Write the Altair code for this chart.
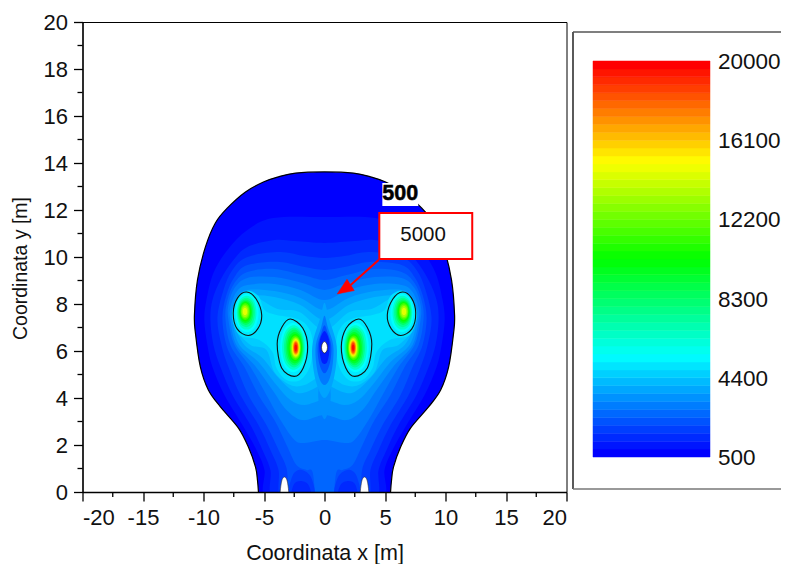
import altair as alt
import pandas as pd

FONT = "Liberation Sans"
X_MAJOR = [-20, -15, -10, -5, 0, 5, 10, 15, 20]
X_MINOR = [-17.5, -12.5, -7.5, -2.5, 2.5, 7.5, 12.5, 17.5]
Y_MAJOR = [0, 2, 4, 6, 8, 10, 12, 14, 16, 18, 20]
Y_MINOR = [1, 3, 5, 7, 9, 11, 13, 15, 17, 19]
BAR_LABELS = [500, 4400, 8300, 12200, 16100, 20000]

# half outlines of the nested contours (x >= 0)
OUTER_X = [0, 2.40, 3.89, 5.05, 6.53, 8.02, 9.02, 9.84, 10.50, 10.75, 10.67, 10.26, 9.60, 8.60, 7.11, 6.29, 5.70, 5.54, 5.46, 5.44, 0]
OUTER_Y = [13.62, 13.57, 13.40, 13.19, 12.77, 12.09, 11.45, 10.43, 9.02, 7.53, 6.77, 5.32, 4.34, 3.62, 2.72, 1.91, 1.06, 0.5, 0, -0.3, -0.3]
C1_X = [0, 4.22, 6.37, 8.02, 9.18, 9.76, 9.93, 9.68, 9.26, 8.27, 6.78, 5.62, 4.96, 4.71, 0]
C1_Y = [11.70, 11.66, 11.15, 10.30, 9.32, 8.17, 7.32, 6.26, 5.32, 4.13, 2.85, 1.79, .94, -.3, -.3]
C2_X = [0, 2.48, 4.14, 6.37, 7.53, 8.60, 9.26, 9.43, 9.18, 8.60, 7.61, 6.12, 5.13, 4.47, 4.14, 0]
C2_Y = [10.60, 10.68, 10.72, 10.43, 9.87, 9.02, 8.17, 7.32, 6.26, 5.32, 4.13, 2.85, 1.79, .94, -.3, -.3]
C3_X = [0, 1.65, 3.72, 6.37, 7.61, 8.35, 8.85, 8.52, 7.94, 6.95, 5.46, 4.47, 3.80, 3.47, 0]
C3_Y = [9.96, 10.04, 10.21, 10.00, 9.45, 8.60, 7.40, 6.26, 5.32, 4.13, 2.85, 1.79, .94, -.3, -.3]
C4_X = [0, 1.65, 3.72, 6.37, 7.44, 8.11, 8.44, 8.11, 7.28, 6.29, 4.80, 3.80, 3.14, 2.65, 0]
C4_Y = [9.45, 9.57, 9.79, 9.66, 9.15, 8.38, 7.40, 6.26, 5.32, 4.13, 2.85, 1.79, 1.02, -.3, -.3]
C5_X = [0, 1.82, 4.14, 6.37, 7.44, 8.02, 8.19, 7.78, 6.62, 5.46, 4.14, 3.14, 2.32, 1.49, .99, .66, 0]
C5_Y = [9.02, 9.23, 9.49, 9.36, 8.89, 8.17, 7.40, 6.26, 5.32, 4.13, 3.06, 2.00, 1.15, .94, .85, -.3, -.3]
C6_X = [0, 1.82, 4.14, 6.37, 7.44, 7.94, 7.94, 7.44, 6.12, 4.80, 3.64, 2.48, 1.65, 0]
C6_Y = [8.60, 8.89, 9.15, 9.11, 8.68, 7.96, 7.32, 6.26, 5.32, 4.13, 3.06, 2.21, 2.09, 2.21]
C7_X = [0, 1.99, 4.14, 6.37, 7.28, 7.78, 7.78, 7.28, 5.79, 4.30, 3.14, 1.82, 0]
C7_Y = [8.17, 8.60, 8.85, 8.81, 8.51, 7.83, 7.32, 6.26, 5.40, 4.34, 3.49, 3.06, 3.28]
C8_X = [0, 1.99, 4.14, 6.37, 7.20, 7.61, 7.61, 7.03, 5.46, 3.97, 2.81, 1.65, 0]
C8_Y = [7.74, 8.26, 8.55, 8.60, 8.34, 7.74, 7.23, 6.26, 5.53, 4.55, 3.91, 3.70, 3.91]
C9_X = [0, 1.99, 4.14, 6.37, 7.03, 7.44, 7.44, 6.62, 5.13, 3.80, 2.48, 1.49, 0]
C9_Y = [7.32, 7.96, 8.30, 8.38, 8.17, 7.66, 7.11, 6.26, 5.70, 4.85, 4.26, 4.26, 4.55]
C10_X = [0, 2.07, 3.89, 5.21, 6.45, 7.11, 7.61, 7.28, 6.12, 4.80, 4.14, 2.81, 1.65, 0]
C10_Y = [6.89, 7.66, 7.79, 8.17, 8.47, 8.26, 7.62, 6.89, 6.26, 6.04, 5.11, 4.55, 4.55, 4.98]
BODY = [(OUTER_X, OUTER_Y, 500), (C1_X, C1_Y, 890), (C2_X, C2_Y, 1280), (C3_X, C3_Y, 1670),
        (C4_X, C4_Y, 2060), (C5_X, C5_Y, 2450), (C6_X, C6_Y, 2840), (C7_X, C7_Y, 3230),
        (C8_X, C8_Y, 3620), (C9_X, C9_Y, 4010), (C10_X, C10_Y, 4400)]

LOBE_X = [.99, 1.49, 2.48, 3.97, 4.96, 5.46, 6.45, 7.44, 7.61, 7.03, 5.38, 4.30, 3.97, 3.14, 1.99, 1.16]
LOBE_Y = [6.47, 7.11, 7.40, 7.53, 7.74, 8.34, 8.55, 7.96, 7.40, 6.68, 6.47, 5.96, 5.28, 4.77, 4.77, 5.40]
LOBE_LEVEL = 4790

TRENCH = [([0, .45, .5, .3, 0], [5.00, 4.50, 3.90, 3.40, 3.10], 3230),
          ([0, .35, .95, 1.0, .65, 0], [8.05, 7.40, 6.40, 5.60, 4.60, 4.00], 3620),
          ([0, .28, .72, .68, .40, 0], [7.50, 7.00, 6.26, 5.45, 4.80, 4.55], 2840),
          ([0, .25, .55, .52, .32, 0], [7.10, 6.80, 6.26, 5.70, 5.28, 5.05], 2060),
          ([0, .38, .40, .22, 0], [6.85, 6.47, 5.96, 5.53, 5.45], 1080)]
CENTER_HOLE_X = [0, .22, .22, 0]
CENTER_HOLE_Y = [6.40, 6.26, 6.04, 5.91]

PATCH_A_X = [1.90, 2.65, 2.89, .91, 1.08]
PATCH_A_Y = [.94, .68, -.3, -.3, .60]
PATCH_B_X = [1.99, 2.56, 2.65, 1.16, 1.32]
PATCH_B_Y = [.47, .30, -.3, -.3, .30]
BOTTOM_HOLE_X = [3.31, 3.56, 3.64, 2.98, 3.06]
BOTTOM_HOLE_Y = [.64, .42, -.3, -.3, .42]

RING_INNER_X = [2.82, 3.54, 3.91, 3.54, 2.50, 1.76, 1.39, 1.80]
RING_INNER_Y = [7.36, 7.00, 6.30, 5.28, 4.92, 5.28, 6.17, 6.98]
RING_OUTER_X = [6.44, 7.18, 7.54, 7.22, 6.31, 5.52, 5.19, 5.65]
RING_OUTER_Y = [8.51, 8.26, 7.62, 6.94, 6.66, 6.94, 7.53, 8.21]

SPOT_LEVELS = [5400, 6400, 7400, 8400, 9400, 10400, 11400, 12400, 13400, 14600, 15800, 16800, 17800, 18800, 19800]
INNER_CX = [2.58, 2.55, 2.52, 2.49, 2.46, 2.43, 2.41, 2.39, 2.38, 2.37, 2.37, 2.37, 2.37, 2.37, 2.37]
INNER_CY = [6.15, 6.15, 6.15, 6.15, 6.14, 6.14, 6.14, 6.14, 6.14, 6.14, 6.14, 6.14, 6.14, 6.14, 6.14]
INNER_RX = [1.08, .95, .83, .73, .63, .54, .47, .41, .36, .31, .27, .23, .19, .15, .10]
INNER_RY = [1.05, .95, .85, .76, .67, .58, .52, .46, .42, .37, .33, .29, .25, .21, .14]
OUTER_CX = [6.40, 6.44, 6.47, 6.50, 6.52, 6.54, 6.55, 6.56, 6.57, 6.57]
OUTER_CY = [7.62, 7.63, 7.64, 7.65, 7.66, 7.67, 7.68, 7.68, 7.68, 7.68]
OUTER_RX = [.95, .82, .72, .62, .53, .46, .40, .34, .27, .18]
OUTER_RY = [.82, .72, .63, .54, .47, .41, .36, .30, .24, .16]

STOPS = [(500, (0, 0, 255)), (5375, (0, 255, 255)), (10250, (0, 255, 0)), (15125, (255, 255, 0)), (20000, (255, 0, 0))]


def level_color(v):
    for (a, ca), (b, cb) in zip(STOPS, STOPS[1:]):
        if v <= b:
            t = (v - a) / (b - a)
            return "#%02x%02x%02x" % tuple(round(p + (q - p) * t) for p, q in zip(ca, cb))
    return "#ff0000"


def mirror(xs, ys):
    back = [(-x, y) for x, y in zip(reversed(xs), reversed(ys)) if x != 0]
    return xs + [p[0] for p in back], ys + [p[1] for p in back]


XS = alt.Scale(domain=[-20, 20], nice=False, zero=False)
YS = alt.Scale(domain=[0, 20], nice=False, zero=False)
X_AXIS = alt.Axis(values=X_MAJOR, labelExpr="toString(datum.value)", zindex=1, titlePadding=14)
Y_AXIS = alt.Axis(values=Y_MAJOR, labelExpr="toString(datum.value)", zindex=1, titlePadding=13, titleY=246, titleFontSize=19.5)
X0 = alt.X("x:Q", scale=XS, axis=X_AXIS, title="Coordinata x [m]")
Y0 = alt.Y("y:Q", scale=YS, axis=Y_AXIS, title="Coordinata y [m]")


def poly(xs, ys, fill, stroke="transparent", sw=0):
    df = pd.DataFrame({"x": xs, "y": ys, "i": range(len(xs))})
    return alt.Chart(df).mark_line(
        interpolate="cardinal-closed", fill=fill, stroke=stroke, strokeWidth=sw, clip=True
    ).encode(x=X0, y=Y0, order=alt.Order("i:Q"))


def oval(cx, cy, rx, ry, fill):
    k = 0.72
    return poly([cx, cx + k * rx, cx + rx, cx + k * rx, cx, cx - k * rx, cx - rx, cx - k * rx],
                [cy + ry, cy + k * ry, cy, cy - k * ry, cy - ry, cy - k * ry, cy, cy + k * ry], fill)


marks = []
for i, (xs, ys, lev) in enumerate(BODY):
    mx, my = mirror(xs, ys)
    marks.append(poly(mx, my, level_color(lev), "black" if i == 0 else "transparent", 1.2 if i == 0 else 0))
for sign in (1, -1):
    marks.append(poly([sign * v for v in LOBE_X], LOBE_Y, level_color(LOBE_LEVEL)))
for xs, ys, lev in TRENCH:
    mx, my = mirror(xs, ys)
    marks.append(poly(mx, my, level_color(lev)))
mx, my = mirror(CENTER_HOLE_X, CENTER_HOLE_Y)
marks.append(poly(mx, my, "white", "#222222", 0.7))
for sign in (1, -1):
    marks.append(poly([sign * v for v in PATCH_A_X], PATCH_A_Y, level_color(1670)))
    marks.append(poly([sign * v for v in PATCH_B_X], PATCH_B_Y, level_color(1280)))
    marks.append(poly([sign * v for v in BOTTOM_HOLE_X], BOTTOM_HOLE_Y, "white", "#333333", 0.6))
for sign in (1, -1):
    marks.append(poly([sign * v for v in RING_INNER_X], RING_INNER_Y, level_color(5000)))
    marks.append(poly([sign * v for v in RING_OUTER_X], RING_OUTER_Y, level_color(5000)))
    for j, lev in enumerate(SPOT_LEVELS):
        marks.append(oval(sign * INNER_CX[j], INNER_CY[j], INNER_RX[j], INNER_RY[j], level_color(lev)))
    for j, lev in enumerate(SPOT_LEVELS[:len(OUTER_RX)]):
        marks.append(oval(sign * OUTER_CX[j], OUTER_CY[j], OUTER_RX[j], OUTER_RY[j], level_color(lev)))
    marks.append(poly([sign * v for v in RING_INNER_X], RING_INNER_Y, "transparent", "#111111", 1.1))
    marks.append(poly([sign * v for v in RING_OUTER_X], RING_OUTER_Y, "transparent", "#111111", 1.1))

x_minor = alt.Chart(pd.DataFrame({"x": X_MINOR})).mark_rule(color="black", strokeWidth=1.3).encode(
    x=X0, y=alt.value(470), y2=alt.value(475))
y_minor = alt.Chart(pd.DataFrame({"y": Y_MINOR})).mark_rule(color="black", strokeWidth=1.3).encode(
    y=Y0, x=alt.value(0), x2=alt.value(-5))

BOX_500_X, BOX_500_X2, BOX_500_Y, BOX_500_Y2 = 4.78, 7.75, 12.17, 13.15
CALL_X, CALL_X2, CALL_Y, CALL_Y2 = 4.53, 12.21, 9.91, 11.87
ARROW_X = [4.47, 2.16]
ARROW_Y = [9.87, 8.81]
HEAD_X = [1.05, 1.86, 2.46]
HEAD_Y = [8.43, 9.05, 8.57]

white_box = alt.Chart(pd.DataFrame({"x": [BOX_500_X], "x2": [BOX_500_X2], "y": [BOX_500_Y], "y2": [BOX_500_Y2]})).mark_rect(
    color="white").encode(x=X0, x2="x2:Q", y=Y0, y2="y2:Q")
label_500 = alt.Chart(pd.DataFrame({"x": [4.78], "y": [12.42], "t": ["500"]})).mark_text(
    align="left", baseline="alphabetic", font=FONT, fontSize=21.5, fontWeight="bold", color="black",
    stroke="black", strokeWidth=0.5).encode(x=X0, y=Y0, text="t:N")
arrow = alt.Chart(pd.DataFrame({"x": ARROW_X, "y": ARROW_Y})).mark_line(color="#ff0000", strokeWidth=2).encode(x=X0, y=Y0)
head = alt.Chart(pd.DataFrame({"x": HEAD_X, "y": HEAD_Y, "i": [0, 1, 2]})).mark_line(
    interpolate="linear-closed", fill="#ff0000", stroke="#ff0000", strokeWidth=0.5).encode(x=X0, y=Y0, order=alt.Order("i:Q"))
call_box = alt.Chart(pd.DataFrame({"x": [CALL_X], "x2": [CALL_X2], "y": [CALL_Y], "y2": [CALL_Y2]})).mark_rect(
    fill="white", stroke="#ff0000", strokeWidth=2).encode(x=X0, x2="x2:Q", y=Y0, y2="y2:Q")
call_text = alt.Chart(pd.DataFrame({"x": [8.15], "y": [10.94], "t": ["5000"]})).mark_text(
    align="center", baseline="middle", font=FONT, fontSize=20.5, color="#111111").encode(x=X0, y=Y0, text="t:N")

main = alt.layer(*marks, x_minor, y_minor, white_box, label_500, arrow, head, call_box, call_text)

N_BANDS = 50
band_lo = [500 + 390 * i for i in range(N_BANDS)]
band_hi = [500 + 390 * (i + 1) for i in range(N_BANDS)]
band_col = [level_color(500 + 19500 * i / (N_BANDS - 1)) for i in range(N_BANDS)]
bar_df = pd.DataFrame({"lo": band_lo, "hi": band_hi, "c": band_col, "a": 0, "b": 1})
BY = alt.Scale(domain=[500, 20000], range=[435, 39], nice=False, zero=False)
BX = alt.Scale(domain=[0, 1], range=[510.5, 627.5], nice=False, zero=False)
bar = alt.Chart(bar_df).mark_rect(strokeWidth=0.5).encode(
    x=alt.X("a:Q", scale=BX, axis=None), x2="b:Q",
    y=alt.Y("lo:Q", scale=BY, axis=None), y2="hi:Q",
    fill=alt.Fill("c:N", scale=None, legend=None),
    stroke=alt.Stroke("c:N", scale=None, legend=None))
bar_text = alt.Chart(pd.DataFrame({"v": BAR_LABELS})).mark_text(
    align="left", baseline="middle", font=FONT, fontSize=22.5, color="#111111", dy=1).encode(
    x=alt.value(635.5), y=alt.Y("v:Q", scale=BY, axis=None), text=alt.Text("v:Q", format="d"))
frame_l = alt.Chart().mark_rule(color="black", strokeWidth=1.3).encode(x=alt.value(490.5), y=alt.value(10), y2=alt.value(467))
frame_t = alt.Chart().mark_rule(color="#555555", strokeWidth=1.3).encode(x=alt.value(490.5), x2=alt.value(699), y=alt.value(10))
frame_b = alt.Chart().mark_rule(color="#777777", strokeWidth=1.3).encode(x=alt.value(490.5), x2=alt.value(699), y=alt.value(467))
side = alt.layer(frame_l, frame_t, frame_b, bar, bar_text)

chart = alt.layer(main, side).resolve_scale(x="independent", y="independent").properties(
    width=484, height=470,
    autosize=alt.AutoSizeParams(type="none"),
    padding={"left": 74.5, "top": 14, "right": 214.5, "bottom": 72},
).configure_view(stroke="black", strokeWidth=1).configure_axis(
    grid=False, labelFont=FONT, labelFontSize=22, labelColor="#111111", labelPadding=6,
    titleFont=FONT, titleFontSize=21.5, titleFontWeight="normal", titleColor="#111111",
    tickSize=9, tickColor="black", tickWidth=1.3, domainColor="black", domainWidth=1.3,
)
chart.save("out.html", embed_options={"renderer": "svg", "actions": False})
